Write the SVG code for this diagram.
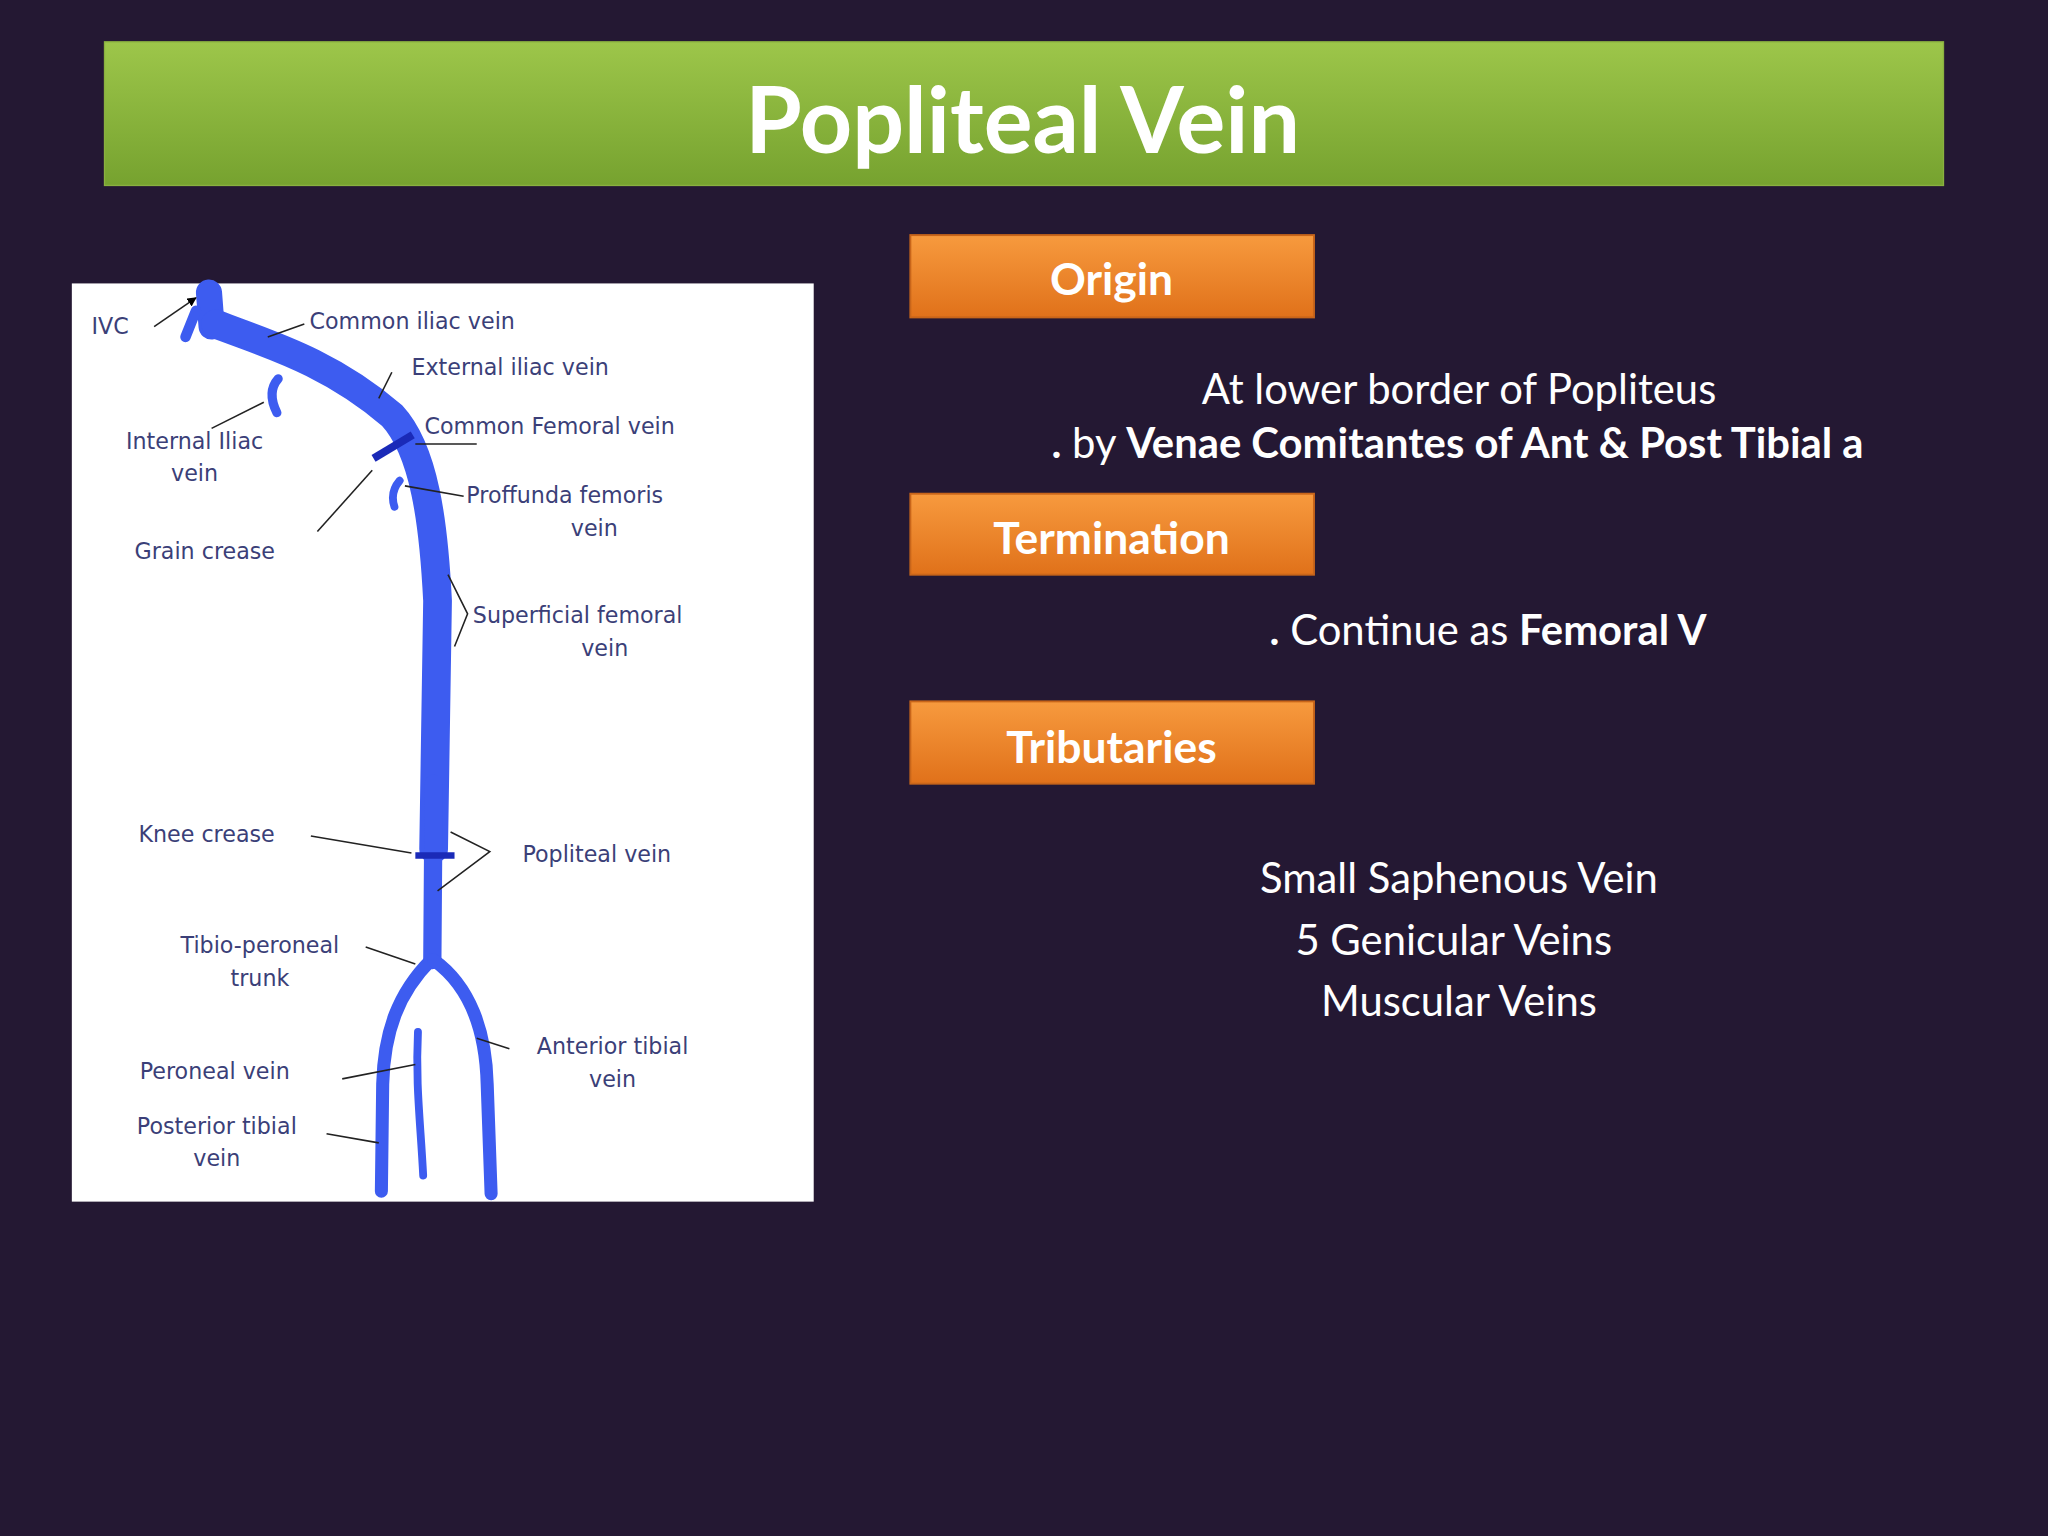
<svg xmlns="http://www.w3.org/2000/svg" width="2048" height="1536" viewBox="0 0 2048 1536">
<defs>
<linearGradient id="gTitle" x1="0" y1="0" x2="0" y2="1"><stop offset="0" stop-color="#9dc64a"/><stop offset="1" stop-color="#76a22f"/></linearGradient>
<linearGradient id="gOr" x1="0" y1="0" x2="0" y2="1"><stop offset="0" stop-color="#f79a3e"/><stop offset="1" stop-color="#e0711a"/></linearGradient>
<marker id="arr" viewBox="0 0 10 10" refX="9" refY="5" markerWidth="6" markerHeight="6" orient="auto"><path d="M0,0L10,5L0,10z" fill="#000"/></marker>
<style>
.hd{font-family:Lato,"Open Sans",sans-serif;font-weight:bold;fill:#fff;text-anchor:middle}
.bx{fill:url(#gOr);stroke:#c8651a;stroke-width:1.5}
.bd{font-family:Lato,"Open Sans",sans-serif;fill:#fff;font-size:32px}
.lb{font-family:"DejaVu Sans",sans-serif;font-size:17px;fill:#3b3f78}
.v{fill:none;stroke:#3d5cf0;stroke-linecap:round;stroke-linejoin:round}
.ld{fill:none;stroke:#222;stroke-width:1.2}
</style>
</defs>
<rect width="2048" height="1536" fill="#241833"/>
<g transform="scale(1.306122)">
<g id="title"><rect x="80" y="32" width="1408" height="110" fill="url(#gTitle)" stroke="#8ab040"/>
<text class="hd" x="783" y="117" font-size="70">Popliteal Vein</text></g>
<g id="origin"><rect class="bx" x="697" y="180" width="309" height="63"/><text class="hd" x="851" y="226" font-size="34">Origin</text></g>
<g id="termination"><rect class="bx" x="697" y="378" width="309" height="62"/><text class="hd" x="851" y="424" font-size="34">Termination</text></g>
<g id="tributaries"><rect class="bx" x="697" y="537" width="309" height="63"/><text class="hd" x="851" y="584" font-size="34">Tributaries</text></g>
<g id="texts">
<text class="bd" x="1117" y="309" text-anchor="middle">At lower border of Popliteus</text>
<text class="bd" x="805" y="351"><tspan font-weight="bold">.</tspan> by <tspan font-weight="bold">Venae Comitantes of Ant &amp; Post Tibial a</tspan></text>
<text class="bd" x="972" y="494"><tspan font-weight="bold">.</tspan> Continue as <tspan font-weight="bold">Femoral V</tspan></text>
<text class="bd" x="1117" y="684" text-anchor="middle" font-size="36">Small Saphenous Vein</text>
<text class="bd" x="1113" y="731" text-anchor="middle" font-size="36">5 Genicular Veins</text>
<text class="bd" x="1117" y="778" text-anchor="middle" font-size="36">Muscular Veins</text>
</g>
<g id="figure">
<rect x="55" y="217" width="568" height="703" fill="#fff"/>
<path class="v" d="M160,224 L162,250" stroke-width="20"/>
<path class="v" d="M150,238 L142,258" stroke-width="8"/>
<path class="v" d="M165,248 C200,262 250,275 300,318 C325,345 332,400 335,460 L332,650" stroke-width="22"/>
<path class="v" d="M332,600 L331,735" stroke-width="14"/>
<path class="v" d="M213,290 C206,298 208,308 212,316" stroke-width="7"/>
<path class="v" d="M306,368 C300,375 300,382 302,388" stroke-width="6"/>
<path class="v" d="M330,735 C305,760 294,790 293,830 L292,912" stroke-width="10"/>
<path class="v" d="M332,735 C360,755 372,790 373,830 L376,914" stroke-width="10"/>
<path class="v" d="M320,790 C318,830 322,860 324,900" stroke-width="6"/>
<line x1="286" y1="351" x2="316" y2="333" stroke="#1a2ab8" stroke-width="6"/>
<line x1="318" y1="655" x2="348" y2="655" stroke="#1a2ab8" stroke-width="5"/>
</g>
<g id="connectors">
<line class="ld" x1="118" y1="250" x2="150" y2="228" marker-end="url(#arr)"/>
<line class="ld" x1="233" y1="248" x2="205" y2="258"/>
<line class="ld" x1="300" y1="285" x2="290" y2="305"/>
<line class="ld" x1="162" y1="328" x2="202" y2="308"/>
<line class="ld" x1="365" y1="340" x2="318" y2="340"/>
<line class="ld" x1="355" y1="380" x2="310" y2="372"/>
<line class="ld" x1="243" y1="407" x2="285" y2="360"/>
<polyline class="ld" points="343,440 358,470 348,495"/>
<line class="ld" x1="238" y1="640" x2="315" y2="653"/>
<polyline class="ld" points="345,637 375,652 335,682"/>
<line class="ld" x1="280" y1="725" x2="318" y2="738"/>
<line class="ld" x1="390" y1="803" x2="365" y2="795"/>
<line class="ld" x1="262" y1="826" x2="318" y2="815"/>
<line class="ld" x1="250" y1="868" x2="290" y2="875"/>
</g>
<g id="labels">
<text class="lb" x="70" y="256">IVC</text>
<text class="lb" x="237" y="252">Common iliac vein</text>
<text class="lb" x="315" y="287">External iliac vein</text>
<text class="lb" x="149" y="344" text-anchor="middle">Internal Iliac</text>
<text class="lb" x="149" y="368" text-anchor="middle">vein</text>
<text class="lb" x="325" y="332">Common Femoral vein</text>
<text class="lb" x="357" y="385">Proffunda femoris</text>
<text class="lb" x="455" y="410" text-anchor="middle">vein</text>
<text class="lb" x="103" y="428">Grain crease</text>
<text class="lb" x="362" y="477">Superficial femoral</text>
<text class="lb" x="463" y="502" text-anchor="middle">vein</text>
<text class="lb" x="106" y="645">Knee crease</text>
<text class="lb" x="400" y="660">Popliteal vein</text>
<text class="lb" x="199" y="730" text-anchor="middle">Tibio-peroneal</text>
<text class="lb" x="199" y="755" text-anchor="middle">trunk</text>
<text class="lb" x="469" y="807" text-anchor="middle">Anterior tibial</text>
<text class="lb" x="469" y="832" text-anchor="middle">vein</text>
<text class="lb" x="107" y="826">Peroneal vein</text>
<text class="lb" x="166" y="868" text-anchor="middle">Posterior tibial</text>
<text class="lb" x="166" y="893" text-anchor="middle">vein</text>
</g>
</g>
</svg>
